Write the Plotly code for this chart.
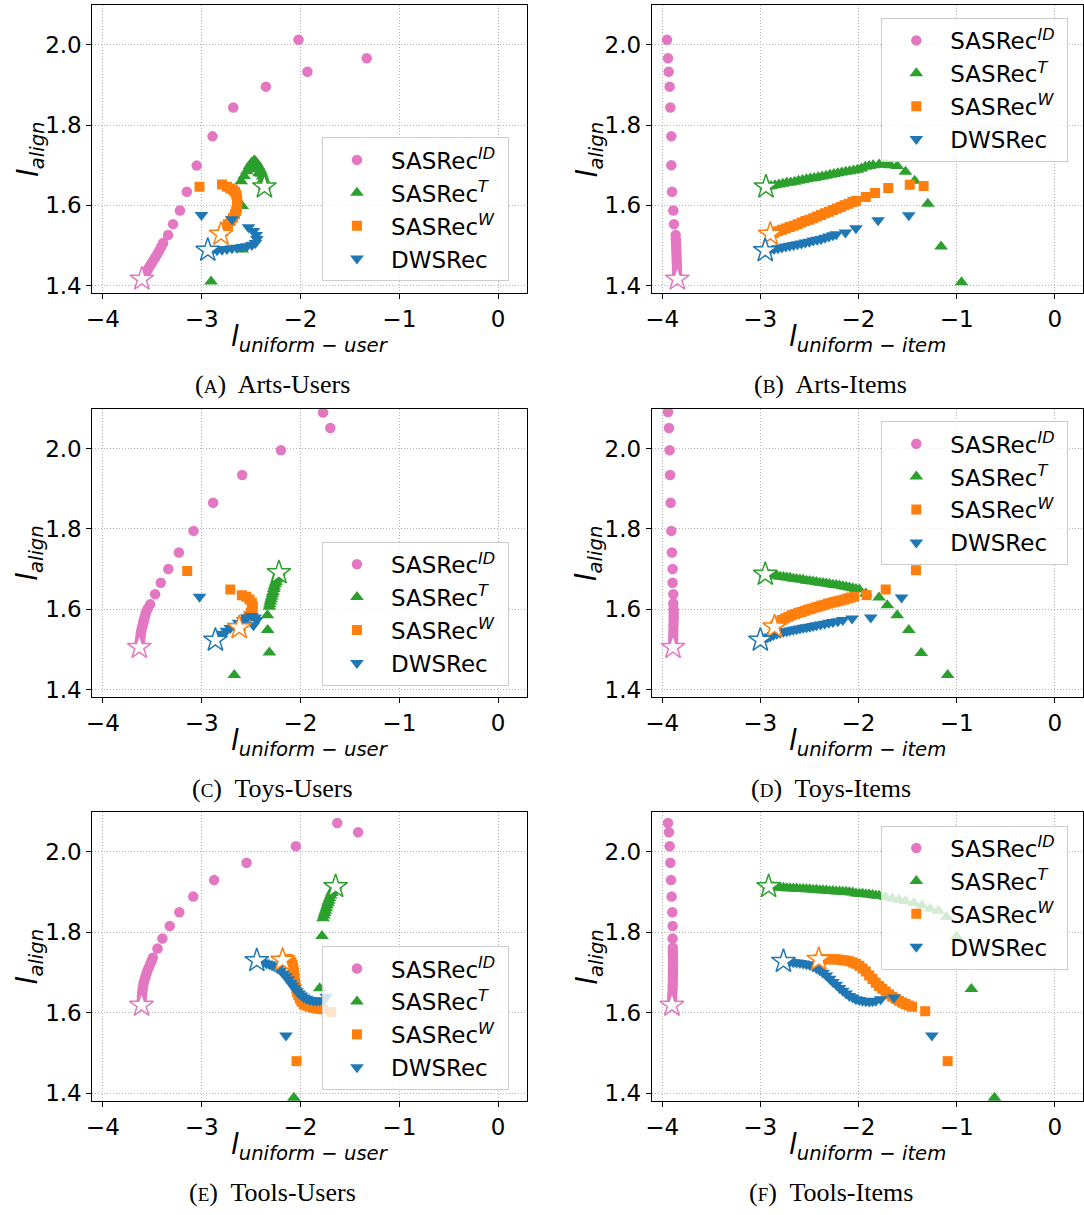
import plotly.graph_objects as go

# ---------------- data ----------------
# Panel A: Arts-Users
A_ID_X = [-1.33, -2.02, -1.93, -2.35, -2.68, -2.89, -3.05, -3.15, -3.22, -3.29, -3.34, -3.39, -3.41, -3.43, -3.45, -3.47, -3.49, -3.51, -3.53, -3.545, -3.56, -3.575, -3.59, -3.605]
A_ID_Y = [1.967, 2.013, 1.933, 1.896, 1.844, 1.772, 1.699, 1.634, 1.587, 1.553, 1.526, 1.506, 1.496, 1.487, 1.478, 1.470, 1.462, 1.454, 1.446, 1.440, 1.433, 1.427, 1.421, 1.416]
A_T_X = [-2.905, -2.59, -2.59, -2.60, -2.57, -2.543, -2.50, -2.516, -2.493, -2.46, -2.469, -2.455, -2.442, -2.42, -2.428, -2.415, -2.403, -2.392, -2.383, -2.375, -2.37, -2.365]
A_T_Y = [1.410, 1.490, 1.598, 1.660, 1.673, 1.685, 1.690, 1.698, 1.707, 1.695, 1.712, 1.709, 1.704, 1.680, 1.698, 1.692, 1.686, 1.679, 1.672, 1.665, 1.655, 1.646]
A_W_X = [-3.022, -2.794, -2.744, -2.710, -2.683, -2.663, -2.650, -2.643, -2.640, -2.640, -2.643, -2.650, -2.663, -2.683, -2.707, -2.734, -2.760, -2.784, -2.804]
A_W_Y = [1.646, 1.652, 1.646, 1.642, 1.639, 1.634, 1.627, 1.619, 1.611, 1.602, 1.594, 1.586, 1.578, 1.569, 1.561, 1.553, 1.545, 1.536, 1.528]
A_D_X = [-3.002, -2.693, -2.526, -2.476, -2.449, -2.442, -2.456, -2.492, -2.543, -2.593, -2.643, -2.693, -2.744, -2.794, -2.844, -2.894, -2.938]
A_D_Y = [1.576, 1.565, 1.545, 1.536, 1.526, 1.516, 1.506, 1.501, 1.498, 1.496, 1.494, 1.493, 1.491, 1.489, 1.488, 1.487, 1.488]

# Panel B: Arts-Items
B_ID_X = [-3.950, -3.940, -3.933, -3.923, -3.916, -3.906, -3.906, -3.899, -3.886, -3.879, -3.862, -3.860, -3.858, -3.856, -3.855, -3.853, -3.852, -3.850, -3.849, -3.848, -3.847, -3.845]
B_ID_Y = [2.013, 1.967, 1.933, 1.896, 1.844, 1.772, 1.700, 1.634, 1.587, 1.553, 1.526, 1.515, 1.505, 1.495, 1.485, 1.475, 1.465, 1.455, 1.445, 1.435, 1.425, 1.416]
B_T_X = [-0.950, -1.158, -1.293, -1.427, -1.521, -1.605, -1.672, -1.71, -1.74, -1.790, -1.85, -1.89, -1.93, -1.97, -2.01, -2.05, -2.09, -2.13, -2.17, -2.21, -2.25, -2.29, -2.33, -2.37, -2.41, -2.45, -2.49, -2.53, -2.57, -2.61, -2.65, -2.69, -2.73, -2.77, -2.81, -2.85, -2.89, -2.92, -2.942]
B_T_Y = [1.408, 1.497, 1.604, 1.661, 1.684, 1.698, 1.700, 1.701, 1.702, 1.702, 1.700, 1.698, 1.696, 1.692, 1.689, 1.687, 1.685, 1.684, 1.682, 1.680, 1.678, 1.676, 1.674, 1.672, 1.670, 1.668, 1.667, 1.665, 1.663, 1.661, 1.659, 1.657, 1.656, 1.654, 1.652, 1.650, 1.648, 1.647, 1.646]
B_W_X = [-1.336, -1.477, -1.696, -1.830, -1.924, -2.025, -2.06, -2.10, -2.14, -2.18, -2.22, -2.26, -2.30, -2.34, -2.38, -2.42, -2.46, -2.50, -2.54, -2.58, -2.62, -2.66, -2.70, -2.74, -2.78, -2.82, -2.86, -2.898]
B_W_Y = [1.648, 1.651, 1.643, 1.631, 1.621, 1.611, 1.608, 1.604, 1.600, 1.596, 1.592, 1.588, 1.584, 1.580, 1.576, 1.572, 1.568, 1.564, 1.561, 1.557, 1.553, 1.549, 1.546, 1.542, 1.539, 1.535, 1.531, 1.528]
B_D_X = [-1.487, -1.800, -2.025, -2.132, -2.226, -2.26, -2.30, -2.34, -2.38, -2.42, -2.46, -2.50, -2.54, -2.58, -2.62, -2.66, -2.70, -2.74, -2.78, -2.82, -2.86, -2.90, -2.949]
B_D_Y = [1.575, 1.563, 1.543, 1.532, 1.528, 1.525, 1.522, 1.519, 1.516, 1.514, 1.512, 1.509, 1.507, 1.505, 1.503, 1.501, 1.499, 1.497, 1.495, 1.493, 1.491, 1.489, 1.487]

# Panel C: Toys-Users
C_ID_X = [-1.772, -1.698, -2.198, -2.590, -2.884, -3.082, -3.230, -3.337, -3.414, -3.471, -3.521, -3.545, -3.561, -3.570, -3.578, -3.585, -3.591, -3.598, -3.605, -3.610, -3.615, -3.618, -3.621, -3.625, -3.628, -3.631]
C_ID_Y = [2.090, 2.051, 1.996, 1.934, 1.865, 1.795, 1.741, 1.700, 1.666, 1.637, 1.612, 1.602, 1.593, 1.586, 1.579, 1.572, 1.566, 1.559, 1.553, 1.546, 1.540, 1.533, 1.527, 1.521, 1.515, 1.505]
C_T_X = [-2.670, -2.315, -2.332, -2.335, -2.315, -2.310, -2.305, -2.298, -2.291, -2.285, -2.278, -2.270, -2.265, -2.256, -2.248, -2.240, -2.231, -2.225, -2.218]
C_T_Y = [1.436, 1.492, 1.548, 1.585, 1.606, 1.612, 1.619, 1.625, 1.631, 1.637, 1.643, 1.650, 1.656, 1.662, 1.668, 1.674, 1.680, 1.686, 1.691]
C_W_X = [-3.146, -2.710, -2.593, -2.549, -2.516, -2.492, -2.482, -2.486, -2.503, -2.526, -2.553, -2.576, -2.603, -2.620]
C_W_Y = [1.695, 1.649, 1.635, 1.631, 1.624, 1.616, 1.607, 1.599, 1.591, 1.583, 1.574, 1.566, 1.559, 1.554]
C_D_X = [-3.022, -2.442, -2.459, -2.492, -2.476, -2.543, -2.583, -2.626, -2.670, -2.710, -2.750, -2.787, -2.821, -2.861]
C_D_Y = [1.631, 1.573, 1.579, 1.583, 1.560, 1.579, 1.573, 1.566, 1.559, 1.553, 1.546, 1.539, 1.531, 1.523]

# Panel D: Toys-Items
D_ID_X = [-3.940, -3.930, -3.923, -3.919, -3.913, -3.906, -3.900, -3.893, -3.893, -3.886, -3.886, -3.883, -3.882, -3.882, -3.883, -3.884, -3.885, -3.886, -3.887, -3.888, -3.889]
D_ID_Y = [2.091, 2.051, 1.996, 1.934, 1.865, 1.795, 1.741, 1.700, 1.666, 1.637, 1.614, 1.600, 1.590, 1.580, 1.570, 1.560, 1.548, 1.537, 1.526, 1.515, 1.505]
D_T_X = [-1.091, -1.360, -1.487, -1.605, -1.706, -1.790, -1.924, -1.991, -2.025, -2.058, -2.092, -2.126, -2.160, -2.193, -2.227, -2.260, -2.294, -2.327, -2.361, -2.394, -2.428, -2.462, -2.496, -2.529, -2.563, -2.596, -2.630, -2.663, -2.697, -2.730, -2.764, -2.797, -2.831, -2.865, -2.907, -2.949]
D_T_Y = [1.436, 1.491, 1.548, 1.585, 1.610, 1.629, 1.639, 1.649, 1.650, 1.652, 1.654, 1.656, 1.657, 1.659, 1.660, 1.661, 1.663, 1.664, 1.665, 1.666, 1.668, 1.669, 1.670, 1.671, 1.673, 1.674, 1.675, 1.676, 1.678, 1.679, 1.680, 1.681, 1.683, 1.684, 1.686, 1.687]
D_W_X = [-1.414, -1.722, -1.917, -2.042, -2.076, -2.109, -2.143, -2.176, -2.210, -2.243, -2.277, -2.310, -2.344, -2.378, -2.411, -2.445, -2.479, -2.512, -2.546, -2.579, -2.613, -2.646, -2.680, -2.713, -2.747, -2.781, -2.806, -2.831, -2.845, -2.855]
D_W_Y = [1.697, 1.649, 1.635, 1.631, 1.629, 1.627, 1.624, 1.622, 1.620, 1.618, 1.616, 1.614, 1.611, 1.609, 1.606, 1.604, 1.601, 1.599, 1.596, 1.593, 1.591, 1.588, 1.585, 1.581, 1.577, 1.573, 1.569, 1.564, 1.560, 1.556]
D_D_X = [-1.561, -1.874, -2.065, -2.159, -2.210, -2.260, -2.302, -2.344, -2.386, -2.428, -2.462, -2.495, -2.529, -2.562, -2.596, -2.630, -2.663, -2.697, -2.730, -2.764, -2.798, -2.831, -2.865, -2.898, -2.924, -2.949, -2.975, -2.999]
D_D_Y = [1.629, 1.579, 1.577, 1.573, 1.570, 1.568, 1.566, 1.564, 1.562, 1.560, 1.558, 1.556, 1.555, 1.554, 1.552, 1.550, 1.549, 1.547, 1.545, 1.544, 1.541, 1.539, 1.536, 1.532, 1.530, 1.528, 1.526, 1.523]

# Panel E: Tools-Users
E_ID_X = [-1.417, -1.628, -2.047, -2.546, -2.874, -3.085, -3.226, -3.323, -3.397, -3.447, -3.494, -3.508, -3.521, -3.535, -3.548, -3.560, -3.571, -3.580, -3.588, -3.594, -3.598, -3.602, -3.605, -3.607, -3.608]
E_ID_Y = [2.049, 2.072, 2.014, 1.973, 1.930, 1.889, 1.850, 1.816, 1.785, 1.760, 1.737, 1.729, 1.721, 1.713, 1.705, 1.696, 1.688, 1.680, 1.673, 1.664, 1.656, 1.648, 1.640, 1.630, 1.619]
E_T_X = [-2.067, -1.806, -1.782, -1.772, -1.763, -1.755, -1.747, -1.739, -1.730, -1.722, -1.714, -1.705, -1.694, -1.682, -1.672, -1.662, -1.653, -1.645]
E_T_Y = [1.389, 1.661, 1.791, 1.835, 1.842, 1.848, 1.854, 1.860, 1.867, 1.873, 1.879, 1.885, 1.892, 1.898, 1.903, 1.908, 1.911, 1.914]
E_W_X = [-2.040, -1.688, -1.772, -1.806, -1.839, -1.872, -1.906, -1.937, -1.967, -1.990, -2.007, -2.022, -2.034, -2.043, -2.050, -2.056, -2.060, -2.064, -2.067, -2.073, -2.080, -2.092, -2.107, -2.124, -2.141, -2.160, -2.181]
E_W_Y = [1.480, 1.602, 1.609, 1.610, 1.611, 1.613, 1.615, 1.618, 1.621, 1.628, 1.636, 1.644, 1.652, 1.660, 1.669, 1.677, 1.686, 1.694, 1.702, 1.711, 1.719, 1.726, 1.731, 1.733, 1.734, 1.733, 1.731]
E_D_X = [-2.147, -1.739, -1.772, -1.806, -1.839, -1.872, -1.906, -1.937, -1.967, -1.990, -2.013, -2.035, -2.057, -2.079, -2.101, -2.124, -2.147, -2.174, -2.201, -2.230, -2.258, -2.287, -2.315, -2.345, -2.375, -2.408, -2.442]
E_D_Y = [1.544, 1.640, 1.631, 1.631, 1.630, 1.631, 1.632, 1.635, 1.638, 1.643, 1.648, 1.654, 1.661, 1.668, 1.675, 1.683, 1.691, 1.698, 1.705, 1.710, 1.715, 1.718, 1.721, 1.723, 1.725, 1.728, 1.730]

# Panel F: Tools-Items
F_ID_X = [-3.940, -3.930, -3.923, -3.916, -3.909, -3.903, -3.896, -3.893, -3.893, -3.891, -3.890, -3.890, -3.889, -3.889, -3.889, -3.890, -3.890, -3.891, -3.892, -3.893, -3.895, -3.897, -3.899, -3.900]
F_ID_Y = [2.072, 2.049, 2.014, 1.973, 1.930, 1.889, 1.850, 1.816, 1.785, 1.762, 1.752, 1.742, 1.731, 1.721, 1.710, 1.700, 1.690, 1.679, 1.669, 1.659, 1.648, 1.638, 1.628, 1.619]
F_T_X = [-0.614, -0.849, -1.000, -1.101, -1.185, -1.269, -1.353, -1.437, -1.521, -1.588, -1.655, -1.723, -1.790, -1.824, -1.857, -1.891, -1.924, -1.958, -1.991, -2.025, -2.058, -2.092, -2.126, -2.160, -2.193, -2.227, -2.260, -2.294, -2.327, -2.361, -2.394, -2.428, -2.462, -2.496, -2.529, -2.563, -2.596, -2.630, -2.663, -2.697, -2.730, -2.764, -2.797, -2.831, -2.865, -2.890, -2.915]
F_T_Y = [1.389, 1.659, 1.790, 1.838, 1.854, 1.859, 1.867, 1.873, 1.878, 1.881, 1.884, 1.888, 1.891, 1.892, 1.893, 1.894, 1.895, 1.896, 1.896, 1.897, 1.899, 1.900, 1.901, 1.901, 1.902, 1.902, 1.903, 1.903, 1.904, 1.905, 1.905, 1.906, 1.906, 1.907, 1.907, 1.908, 1.908, 1.909, 1.909, 1.910, 1.910, 1.911, 1.911, 1.912, 1.913, 1.913, 1.914]
F_W_X = [-1.091, -1.320, -1.454, -1.488, -1.521, -1.555, -1.588, -1.622, -1.655, -1.689, -1.723, -1.757, -1.790, -1.824, -1.857, -1.891, -1.924, -1.958, -1.991, -2.025, -2.058, -2.092, -2.126, -2.160, -2.193, -2.227, -2.260, -2.294, -2.327, -2.366, -2.404]
F_W_Y = [1.480, 1.604, 1.615, 1.618, 1.622, 1.626, 1.630, 1.635, 1.640, 1.646, 1.653, 1.660, 1.667, 1.675, 1.684, 1.693, 1.703, 1.710, 1.717, 1.722, 1.725, 1.728, 1.730, 1.731, 1.732, 1.733, 1.733, 1.733, 1.733, 1.733, 1.733]
F_D_X = [-1.252, -1.639, -1.773, -1.823, -1.857, -1.890, -1.924, -1.958, -1.991, -2.025, -2.058, -2.092, -2.126, -2.159, -2.193, -2.226, -2.260, -2.293, -2.327, -2.361, -2.395, -2.428, -2.462, -2.495, -2.529, -2.562, -2.596, -2.630, -2.663, -2.697, -2.730, -2.764]
F_D_Y = [1.544, 1.638, 1.634, 1.630, 1.629, 1.628, 1.629, 1.630, 1.632, 1.634, 1.638, 1.642, 1.648, 1.655, 1.662, 1.670, 1.677, 1.685, 1.693, 1.700, 1.706, 1.711, 1.715, 1.719, 1.721, 1.723, 1.724, 1.725, 1.726, 1.727, 1.727, 1.728]

SERIES_NAMES = ["SASRec<sup><i>ID</i></sup>&nbsp;", "SASRec<sup><i>T</i></sup>", "SASRec<sup><i>W</i></sup>", "DWSRec"]
CAPTIONS = ["(<span style='font-size:19px'>A</span>)  Arts-Users", "(<span style='font-size:19px'>B</span>)  Arts-Items",
            "(<span style='font-size:19px'>C</span>)  Toys-Users", "(<span style='font-size:19px'>D</span>)  Toys-Items",
            "(<span style='font-size:19px'>E</span>)  Tools-Users", "(<span style='font-size:19px'>F</span>)  Tools-Items"]
X_TICKS = [-4, -3, -2, -1, 0]
X_TICK_TEXT = ["\u22124", "\u22123", "\u22122", "\u22121", "0"]
Y_TICKS = [1.4, 1.6, 1.8, 2.0]
Y_TICK_TEXT = ["1.4", "1.6", "1.8", "2.0"]

PANELS = [
    [(A_ID_X, A_ID_Y), (A_T_X, A_T_Y), (A_W_X, A_W_Y), (A_D_X, A_D_Y)],
    [(B_ID_X, B_ID_Y), (B_T_X, B_T_Y), (B_W_X, B_W_Y), (B_D_X, B_D_Y)],
    [(C_ID_X, C_ID_Y), (C_T_X, C_T_Y), (C_W_X, C_W_Y), (C_D_X, C_D_Y)],
    [(D_ID_X, D_ID_Y), (D_T_X, D_T_Y), (D_W_X, D_W_Y), (D_D_X, D_D_Y)],
    [(E_ID_X, E_ID_Y), (E_T_X, E_T_Y), (E_W_X, E_W_Y), (E_D_X, E_D_Y)],
    [(F_ID_X, F_ID_Y), (F_T_X, F_T_Y), (F_W_X, F_W_Y), (F_D_X, F_D_Y)],
]

# ---------------- styling ----------------
W, H = 1084, 1215
COLORS = ["#e377c2", "#2ca02c", "#ff7f0e", "#1f77b4"]
SYMBOLS = ["circle", "triangle-up", "square", "triangle-down"]
SIZES = [10.5, 12, 10, 12]
COL_X = [(86, 523), (649, 1083)]
ROW_Y = [(5.3, 294.3), (410.5, 700.0), (815.5, 1105.5)]
FONT = "DejaVu Sans"

fig = go.Figure()
layout = dict(width=W, height=H, margin=dict(l=0, r=0, t=0, b=0),
              paper_bgcolor="white", plot_bgcolor="white", showlegend=True)
annotations = []

for i, panel in enumerate(PANELS):
    n = i + 1
    row, col = i // 2, i % 2
    xa = "x" if n == 1 else f"x{n}"
    ya = "y" if n == 1 else f"y{n}"
    lg = "legend" if n == 1 else f"legend{n}"
    x0, x1 = COL_X[col]
    y0, y1 = ROW_Y[row]
    for k, (xs, ys) in enumerate(panel):
        fig.add_trace(go.Scatter(x=xs, y=ys, mode="markers", name=SERIES_NAMES[k],
                                 xaxis=xa, yaxis=ya, legend=lg, showlegend=True,
                                 marker=dict(symbol=SYMBOLS[k], color=COLORS[k], size=SIZES[k], line=dict(width=0))))
    for k, (xs, ys) in enumerate(panel):
        fig.add_trace(go.Scatter(x=[xs[-1]], y=[ys[-1]], mode="markers", showlegend=False,
                                 xaxis=xa, yaxis=ya,
                                 marker=dict(symbol="star", color="white", size=18,
                                             line=dict(color=COLORS[k], width=1.5))))
    axis_common = dict(showline=True, linecolor="black", linewidth=1.2, mirror=True,
                       ticks="outside", ticklen=5, tickwidth=1.1, tickcolor="black",
                       showgrid=True, gridcolor="#b5b5b5", griddash="1px,2px", gridwidth=1,
                       zeroline=False, tickfont=dict(family=FONT, size=23, color="black"))
    layout["xaxis" if n == 1 else f"xaxis{n}"] = dict(
        axis_common, domain=[x0 / W, x1 / W], anchor=ya, range=[-4.105, 0.288],
        tickmode="array", tickvals=X_TICKS, ticktext=X_TICK_TEXT)
    layout["yaxis" if n == 1 else f"yaxis{n}"] = dict(
        axis_common, domain=[1 - y1 / H, 1 - y0 / H], anchor=xa, range=[1.381, 2.099],
        tickmode="array", tickvals=Y_TICKS, ticktext=Y_TICK_TEXT)
    # legend box
    lx = 317 if col == 0 else 880
    ly = [138, 18, 544, 423, 950, 829][i]
    layout[lg] = dict(x=lx / W, y=1 - ly / H, xanchor="left", yanchor="top",
                      bgcolor="rgba(255,255,255,0.8)", bordercolor="#cccccc", borderwidth=1,
                      font=dict(family=FONT, size=23, color="black"), itemwidth=58,
                      tracegroupgap=0)
    # axis titles
    cx = (x0 + x1) / 2
    cy = (y0 + y1) / 2
    sub = "uniform</i> \u2212 <i>user" if col == 0 else "uniform</i> \u2212 <i>item"
    annotations.append(dict(xref="paper", yref="paper", x=cx / W, y=1 - (y1 + 46) / H,
                            text=f"<i>l</i><sub><i>{sub}</i></sub>", showarrow=False,
                            xanchor="center", yanchor="middle",
                            font=dict(family=FONT, size=28, color="black")))
    annotations.append(dict(xref="paper", yref="paper", x=(x0 - 63) / W, y=1 - cy / H,
                            text="<i>l</i><sub><i>align</i></sub>", showarrow=False, textangle=-90,
                            xanchor="center", yanchor="middle",
                            font=dict(family=FONT, size=28, color="black")))
    capx = 267 if col == 0 else 829
    annotations.append(dict(xref="paper", yref="paper", x=capx / W, y=1 - (y1 + 92) / H,
                            text=CAPTIONS[i], showarrow=False, xanchor="center", yanchor="middle",
                            font=dict(family="Liberation Serif", size=26, color="black")))

layout["annotations"] = annotations
fig.update_layout(**layout)
fig.write_html("out.html")
